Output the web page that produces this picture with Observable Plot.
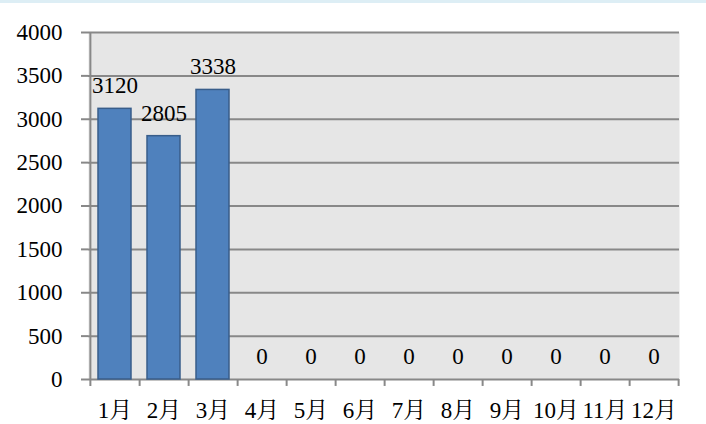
<!DOCTYPE html>
<html>
<head>
<meta charset="utf-8">
<script src="https://cdn.jsdelivr.net/npm/d3@7"></script>
<script src="https://cdn.jsdelivr.net/npm/@observablehq/plot@0.6"></script>
<style>
  html, body { margin: 0; padding: 0; background: #ffffff; }
  #band { height: 3px; background: #ddeef5; }
  #chart svg { display: block; }
</style>
</head>
<body>
<div id="band"></div>
<div id="chart"></div>
<script>
const months = ["1月","2月","3月","4月","5月","6月","7月","8月","9月","10月","11月","12月"];
const values = [3120, 2805, 3338, 0, 0, 0, 0, 0, 0, 0, 0, 0];
const yTicks = [0, 500, 1000, 1500, 2000, 2500, 3000, 3500, 4000];

const data = months.map((m, i) => ({month: m, value: values[i]}));

const W = 706, H = 421;
const mL = 88, mR = 27, mT = 29, mB = 45;
const half = (W - mL - mR) / months.length / 2;
const FF = "'Liberation Serif', 'Noto Serif CJK JP', serif";

const chart = Plot.plot({
  width: W,
  height: H,
  marginLeft: mL,
  marginRight: mR,
  marginTop: mT,
  marginBottom: mB,
  style: {fontSize: "23px", fontFamily: FF, color: "#000", background: "#fff"},
  x: {domain: months, padding: 0, label: null},
  y: {domain: [0, 4000], label: null},
  marks: [
    Plot.frame({fill: "#e6e6e6", stroke: null}),
    Plot.ruleY(yTicks.filter(t => t > 0), {stroke: "#888888", strokeWidth: 2}),
    Plot.ruleX([0], {x: () => months[0], dx: -half, stroke: "#888888", strokeWidth: 2, y1: -80, y2: 4000}),
    Plot.ruleX(months, {x: d => d, dx: half, y1: -80, y2: 0, stroke: "#888888", strokeWidth: 2}),
    Plot.ruleY([0], {stroke: "#888888", strokeWidth: 2}),
    Plot.barY(data, {x: "month", y: "value", fill: "#4f81bd", stroke: "#385d8a", strokeWidth: 1.5, insetLeft: 8, insetRight: 8}),
    Plot.text(data, {x: "month", y: "value", text: d => String(d.value), dy: -23, fill: "#000", fontSize: 23, fontFamily: FF}),
    Plot.axisY({ticks: yTicks, tickSize: 7, tickPadding: 19, stroke: "#888888", strokeWidth: 2, label: null, tickFormat: d => String(d), fill: "#000", fontSize: 23, fontFamily: FF}),
    Plot.axisX({tickSize: 0, tickPadding: 22, label: null, fill: "#000", fontSize: 23, fontFamily: FF})
  ]
});
document.getElementById("chart").appendChild(chart);
</script>
</body>
</html>
